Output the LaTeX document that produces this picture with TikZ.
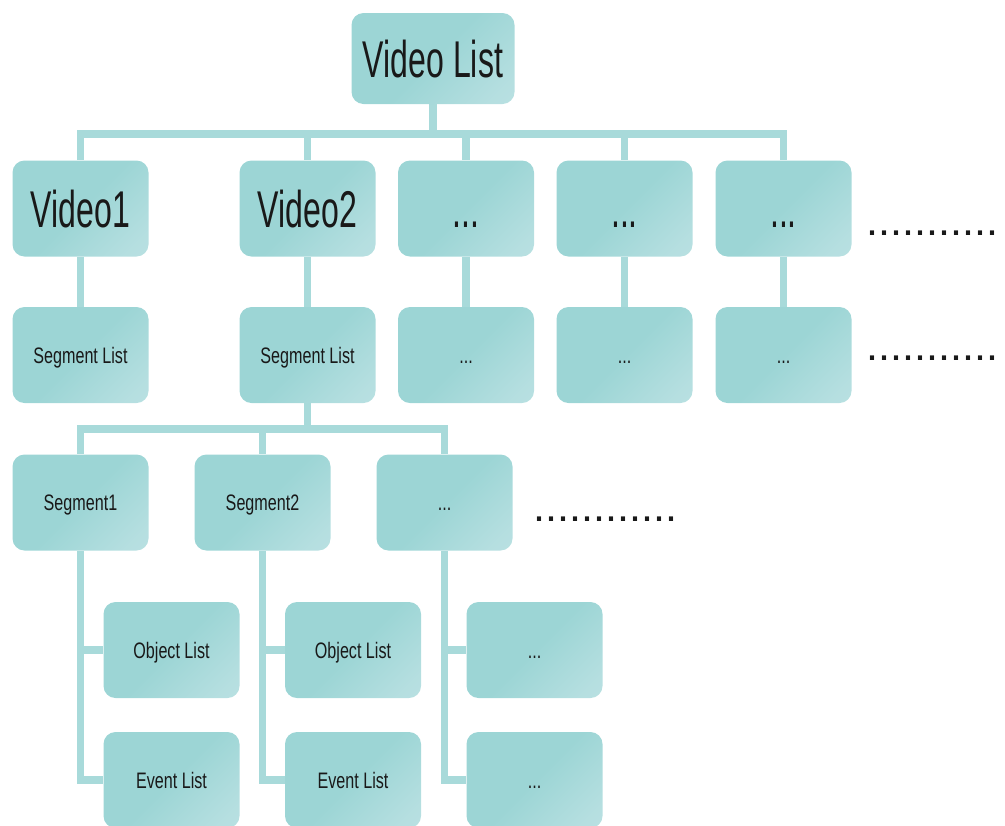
\documentclass[tikz,border=0pt]{standalone}
\usepackage{fontspec}
\usetikzlibrary{backgrounds}
\newfontfamily\bigfont[FakeStretch=0.62]{Liberation Sans}
\newfontfamily\smallfont[FakeStretch=0.72]{Liberation Sans}
\newfontfamily\dotfont{Liberation Sans}
\definecolor{tealA}{RGB}{156,213,213}
\definecolor{tealB}{RGB}{192,227,229}
\definecolor{linkcol}{RGB}{168,218,218}
\definecolor{inkcol}{RGB}{25,25,25}
\pgfdeclareverticalshading{boxshade}{100bp}{color(0bp)=(tealB); color(22bp)=(tealB!70!tealA); color(50bp)=(tealA); color(100bp)=(tealA)}
\tikzset{
  box/.style={rounded corners=6pt, shading=boxshade, shading angle=45,
    minimum width=68pt, minimum height=48pt, inner sep=0pt, text=inkcol},
  bigbox/.style={box, font=\bigfont\fontsize{25.85}{30}\selectfont,
    text height=18.5pt, text depth=0pt},
  smallbox/.style={box, font=\smallfont\fontsize{11.2}{13}\selectfont,
    text height=8pt, text depth=0pt},
  conn/.style={draw=linkcol, line width=3.8pt},
  trail/.style={font=\dotfont\fontsize{21.6}{24}\selectfont, text=inkcol,
    inner sep=0pt, anchor=base west}
}
\begin{document}
\begin{tikzpicture}[x=0.5pt, y=-0.5pt]
\useasboundingbox (0,0) rectangle (1005,825);

% root
\node[bigbox, minimum width=81.5pt, minimum height=45.5pt] (vl) at (433,58.5) {Video List};

% videos
\node[bigbox] (v1) at (80.5,208.5) {Video1};
\node[bigbox] (v2) at (307.5,208.5) {Video2};
\node[bigbox] (d1) at (466,208.5) {...};
\node[bigbox] (d2) at (624.5,208.5) {...};
\node[bigbox] (d3) at (783.5,208.5) {...};

% segment lists
\node[smallbox] (sl1) at (80.5,355) {Segment List};
\node[smallbox] (sl2) at (307.5,355) {Segment List};
\node[smallbox] (sd1) at (466,355) {...};
\node[smallbox] (sd2) at (624.5,355) {...};
\node[smallbox] (sd3) at (783.5,355) {...};

% segments
\node[smallbox] (s1) at (80.5,502.5) {Segment1};
\node[smallbox] (s2) at (262.5,502.5) {Segment2};
\node[smallbox] (s3) at (444.5,502.5) {...};

% object and event lists
\node[smallbox] (o1) at (171.5,650) {Object List};
\node[smallbox] (e1) at (171.5,780) {Event List};
\node[smallbox] (o2) at (353,650) {Object List};
\node[smallbox] (e2) at (353,780) {Event List};
\node[smallbox] (o3) at (534.5,650) {...};
\node[smallbox] (e3) at (534.5,780) {...};

% continuation marks
\node[trail] (more1) at (866,235) {...........};
\node[trail] (more2) at (866,360) {...........};
\node[trail] (more3) at (533,521) {............};

\coordinate (bar1) at (433,134);
\coordinate (bar2) at (307.5,429);

\begin{scope}[on background layer]
  % video list to videos
  \draw[conn] (vl) -- (bar1);
  \draw[conn] (v1) |- (bar1) -| (d3);
  \draw[conn] (v2) -- (v2 |- bar1);
  \draw[conn] (d1) -- (d1 |- bar1);
  \draw[conn] (d2) -- (d2 |- bar1);
  % videos to segment lists
  \draw[conn] (v1) -- (sl1);
  \draw[conn] (v2) -- (sl2);
  \draw[conn] (d1) -- (sd1);
  \draw[conn] (d2) -- (sd2);
  \draw[conn] (d3) -- (sd3);
  % segment list to segments
  \draw[conn] (sl2) -- (bar2);
  \draw[conn] (s1) |- (bar2) -| (s3);
  \draw[conn] (s2) -- (s2 |- bar2);
  % segments to object and event lists
  \draw[conn] (s1) |- (e1);
  \draw[conn] (o1 -| s1) -- (o1);
  \draw[conn] (s2) |- (e2);
  \draw[conn] (o2 -| s2) -- (o2);
  \draw[conn] (s3) |- (e3);
  \draw[conn] (o3 -| s3) -- (o3);
\end{scope}
\end{tikzpicture}
\end{document}
